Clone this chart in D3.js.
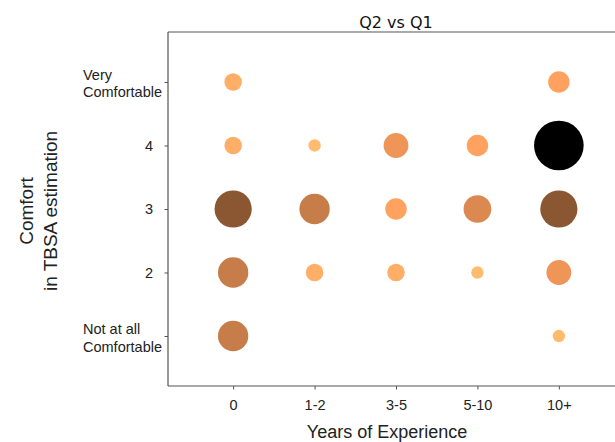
<!DOCTYPE html>
<html>
<head>
<meta charset="utf-8">
<script src="https://cdn.jsdelivr.net/npm/d3@7"></script>
<style>
  html, body { margin: 0; padding: 0; background: #fff; }
  svg { display: block; }
</style>
</head>
<body>
<svg id="chart" width="615" height="442"></svg>
<script>
// ---- data ----
const xCategories = ["0", "1-2", "3-5", "5-10", "10+"];
const yTickValues = [1, 2, 3, 4, 5];
const yTickLabels = ["Not at all\nComfortable", "2", "3", "4", "Very\nComfortable"];
// counts per comfort level (rows) for each experience category (columns); 0 = no point
const countsLevel5 = [2, 0, 0, 0, 3];
const countsLevel4 = [2, 1, 4, 3, 16];
const countsLevel3 = [9, 6, 3, 5, 9];
const countsLevel2 = [6, 2, 2, 1, 4];
const countsLevel1 = [6, 0, 0, 0, 1];
const titleText = "Q2 vs Q1";
const xLabelText = "Years of Experience";
const yLabelLines = ["Comfort", "in TBSA estimation"];

(function () {
const rows = [
  { level: 1, counts: countsLevel1 },
  { level: 2, counts: countsLevel2 },
  { level: 3, counts: countsLevel3 },
  { level: 4, counts: countsLevel4 },
  { level: 5, counts: countsLevel5 }
];
const points = [];
rows.forEach(r => r.counts.forEach((c, i) => { if (c > 0) points.push({ x: i, y: r.level, count: c }); }));

// ---- layout ----
const svg = d3.select("#chart");
const pLeft = 168, pTop = 32, pBottom = 386, pRight = 624;

const x = d3.scaleLinear().domain([-0.8, 4.8]).range([pLeft, pRight]);
const y = d3.scaleLinear().domain([0.213, 5.787]).range([pBottom, pTop]);
const maxCount = d3.max(points, d => d.count);
const r = d3.scaleSqrt().domain([0, maxCount]).range([0, 24.8]);
// copper_r style colormap
const color = c => {
  const t = 1 - c / maxCount;
  return d3.rgb(Math.min(1, 1.25 * t) * 255, 0.7812 * t * 255, 0.46 * t * 255).formatHex();
};

const tickFont = "'Liberation Sans', Arial, sans-serif";
const tickSize = 14.5;

// points
svg.append("g").selectAll("circle")
  .data(points.slice().sort((a, b) => b.count - a.count))
  .enter().append("circle")
  .attr("cx", d => x(d.x))
  .attr("cy", d => y(d.y))
  .attr("r", d => r(d.count))
  .attr("fill", d => color(d.count));

// spines
const spine = "#555";
svg.append("line").attr("x1", pLeft).attr("x2", pLeft).attr("y1", pTop).attr("y2", pBottom)
  .attr("stroke", spine).attr("stroke-width", 1.2);
svg.append("line").attr("x1", pLeft).attr("x2", pRight).attr("y1", pBottom).attr("y2", pBottom)
  .attr("stroke", spine).attr("stroke-width", 1.2);
svg.append("line").attr("x1", pLeft).attr("x2", pRight).attr("y1", pTop).attr("y2", pTop)
  .attr("stroke", spine).attr("stroke-width", 1.2);

// x axis
const xAxis = d3.axisBottom(x).tickValues(d3.range(xCategories.length))
  .tickFormat(i => xCategories[i]).tickSize(3.5).tickPadding(10);
const gx = svg.append("g").attr("transform", `translate(0,${pBottom})`).call(xAxis);
gx.select(".domain").remove();
gx.selectAll(".tick line").attr("stroke", spine);
gx.selectAll(".tick text").attr("font-family", tickFont).attr("font-size", tickSize).attr("fill", "#222");

// y axis
const yAxis = d3.axisLeft(y).tickValues(yTickValues).tickFormat("").tickSize(3.5);
const gy = svg.append("g").attr("transform", `translate(${pLeft},0)`).call(yAxis);
gy.select(".domain").remove();
gy.selectAll(".tick line").attr("stroke", spine);

yTickValues.forEach((v, i) => {
  const lines = yTickLabels[i].split("\n");
  if (lines.length === 1) {
    svg.append("text").attr("x", 153).attr("y", y(v)).attr("dy", "0.35em")
      .attr("text-anchor", "end").attr("font-family", tickFont).attr("font-size", tickSize)
      .attr("fill", "#222").text(lines[0]);
  } else {
    const t = svg.append("text").attr("x", 83).attr("y", y(v))
      .attr("font-family", tickFont).attr("font-size", tickSize).attr("fill", "#222");
    lines.forEach((ln, j) => {
      t.append("tspan").attr("x", 83).attr("y", y(v) - 2 + j * 17.5).text(ln);
    });
  }
});

// title
svg.append("text").attr("x", (pLeft + pRight) / 2).attr("y", 28)
  .attr("text-anchor", "middle").attr("font-family", "'DejaVu Sans', sans-serif")
  .attr("font-size", 16).attr("fill", "#111").text(titleText);

// x label
svg.append("text").attr("x", 387).attr("y", 438)
  .attr("text-anchor", "middle").attr("font-family", tickFont)
  .attr("font-size", 18).attr("fill", "#222").text(xLabelText);

// y label
const yl = svg.append("text").attr("transform", `translate(0,${(pTop + pBottom) / 2 + 2}) rotate(-90)`)
  .attr("text-anchor", "middle").attr("font-family", tickFont)
  .attr("font-size", 19).attr("fill", "#222");
yl.append("tspan").attr("x", 0).attr("y", 33).text(yLabelLines[0]);
yl.append("tspan").attr("x", 0).attr("y", 57).text(yLabelLines[1]);
})();
</script>
</body>
</html>
